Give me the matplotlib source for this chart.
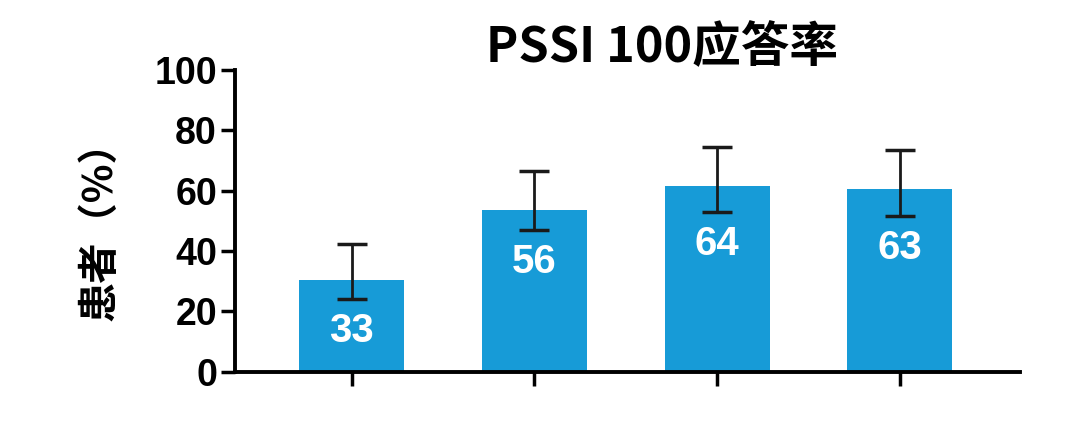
import matplotlib
matplotlib.use("Agg")
import matplotlib.pyplot as plt

# data
groups = ["A", "B", "C", "D"]
rates = [30.5, 53.5, 61.5, 60.5]
err_low = [24, 47, 53, 51.5]
err_high = [42.5, 66.5, 74.5, 73.5]
labels = ["33", "56", "64", "63"]
yticks = [0, 20, 40, 60, 80, 100]

num_font = ["Liberation Sans", "Noto Sans CJK SC"]
cjk_font = ["Noto Sans CJK SC", "DejaVu Sans"]
bar_color = "#179bd7"

fig = plt.figure(figsize=(10.8, 4.26), dpi=100)
ax = fig.add_axes([0.2176, 0.127, 0.727, 0.709])

x = list(range(len(groups)))
ax.bar(x, rates, width=0.575, color=bar_color, zorder=2)
lower = [r - lo for r, lo in zip(rates, err_low)]
upper = [hi - r for r, hi in zip(rates, err_high)]
ax.errorbar(x, rates, yerr=[lower, upper], fmt="none", ecolor="#1a1a1a",
            elinewidth=2, capsize=11, capthick=2.5, zorder=3)

# value labels sit just under the lower whisker
for xi, lo, lab in zip(x, err_low, labels):
    ax.text(xi, lo - 10.5, lab, ha="center", va="center", color="white",
            fontsize=29, fontweight="bold", family=num_font, zorder=4)

ax.set_xlim(-0.64, 3.66)
ax.set_ylim(0, 100)
ax.set_yticks(yticks)
ax.set_yticklabels([str(t) for t in yticks], fontsize=27, fontweight="bold",
                   family=num_font)
ax.set_xticks(x)
ax.set_xticklabels([])
ax.tick_params(axis="y", length=10, width=2.5, pad=3)
ax.tick_params(axis="x", length=10, width=2.5)
for s in ["top", "right"]:
    ax.spines[s].set_visible(False)
for s in ["left", "bottom"]:
    ax.spines[s].set_linewidth(2.8)
ax.spines["left"].set_bounds(0, 100)

ax.set_ylabel("患者（%）", fontsize=29, fontweight="bold", family=cjk_font)
ax.yaxis.set_label_coords(-0.146, 0.5)
fig.text(0.613, 0.854, "PSSI 100应答率", ha="center", va="baseline",
         fontsize=35, fontweight="bold", family=cjk_font)

plt.savefig("out.png", dpi=100)
